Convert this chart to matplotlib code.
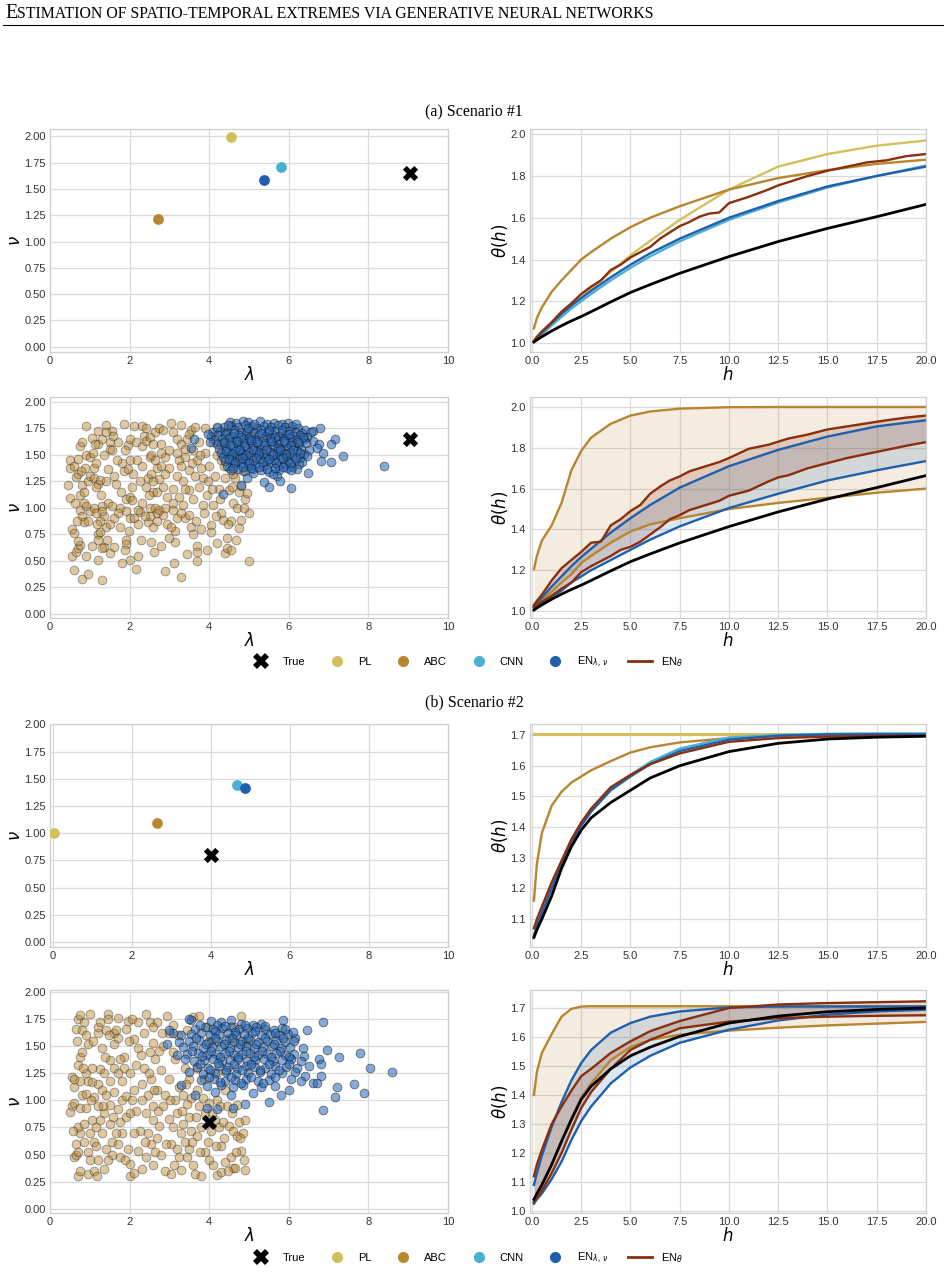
import numpy as np
import matplotlib
matplotlib.use("Agg")
import matplotlib.pyplot as plt
from matplotlib.lines import Line2D

# ---------------- colours ----------------
C_TRUE = "#000000"
C_PL = "#d4bf5f"
C_ABC = "#b8862f"
C_CNN = "#4aafd3"
C_EN = "#1f5fad"
C_ENT = "#8b2e0c"

# ---------------- Scenario (a) point estimates ----------------
A_TRUE = (9.04, 1.65)
A_PL = (4.55, 1.99)
A_ABC = (2.72, 1.21)
A_CNN = (5.80, 1.71)
A_EN = (5.38, 1.585)

# ---------------- Scenario (b) point estimates ----------------
B_TRUE = (4.00, 0.80)
B_PL = (0.02, 1.00)
B_ABC = (2.63, 1.09)
B_CNN = (4.67, 1.445)
B_EN = (4.87, 1.415)

# ---------------- curves: common h grid ----------------
H = [0.1, 0.25, 0.5, 1, 1.5, 2, 2.5, 3, 4, 5, 6, 7.5, 10, 12.5, 15, 17.5, 20]

# Scenario (a) point-estimate curves
A_TRUE_TH = [1.005, 1.015, 1.03, 1.058, 1.083, 1.106, 1.127, 1.15, 1.197, 1.242, 1.28, 1.334, 1.414, 1.486, 1.549, 1.605, 1.664]
A_PL_TH = [1.005, 1.02, 1.04, 1.085, 1.13, 1.175, 1.22, 1.26, 1.34, 1.42, 1.49, 1.59, 1.735, 1.845, 1.905, 1.945, 1.97]
A_ABC_TH = [1.07, 1.12, 1.17, 1.245, 1.30, 1.35, 1.40, 1.435, 1.50, 1.555, 1.60, 1.655, 1.735, 1.79, 1.828, 1.858, 1.878]
A_CNN_TH = [1.008, 1.02, 1.042, 1.085, 1.125, 1.165, 1.20, 1.235, 1.30, 1.36, 1.415, 1.487, 1.59, 1.673, 1.745, 1.80, 1.85]
A_EN_TH = [1.01, 1.025, 1.05, 1.095, 1.14, 1.18, 1.215, 1.25, 1.315, 1.375, 1.43, 1.50, 1.60, 1.68, 1.75, 1.80, 1.845]
H_ENT_A = [0.1, 0.25, 0.5, 1, 1.5, 2, 2.5, 3, 3.5, 4, 4.5, 5, 5.5, 6, 6.5, 7, 7.5, 8, 8.5, 9, 9.5, 10, 11, 12, 12.5, 13, 14, 15, 16, 17, 18, 19, 20]
A_ENT_TH = [1.01, 1.03, 1.055, 1.10, 1.15, 1.19, 1.235, 1.27, 1.30, 1.35, 1.375, 1.41, 1.435, 1.46, 1.50, 1.53, 1.56, 1.58, 1.605, 1.62, 1.625, 1.67, 1.70, 1.735, 1.755, 1.77, 1.80, 1.825, 1.845, 1.865, 1.875, 1.895, 1.905]

# Scenario (a) bands
A_ABC_HI = [1.205, 1.27, 1.345, 1.42, 1.53, 1.69, 1.785, 1.85, 1.918, 1.958, 1.978, 1.992, 1.999, 2.0, 2.0, 2.0, 2.0]
A_ABC_LO = [1.02, 1.03, 1.05, 1.095, 1.14, 1.18, 1.235, 1.27, 1.335, 1.39, 1.425, 1.455, 1.50, 1.53, 1.555, 1.58, 1.60]
A_EN_HI = [1.02, 1.04, 1.065, 1.12, 1.17, 1.22, 1.265, 1.305, 1.385, 1.455, 1.52, 1.605, 1.71, 1.79, 1.855, 1.905, 1.935]
A_EN_LO = [1.015, 1.025, 1.04, 1.07, 1.10, 1.14, 1.17, 1.20, 1.25, 1.30, 1.35, 1.415, 1.505, 1.575, 1.64, 1.69, 1.735]
A_ENT_HI = [1.03, 1.05, 1.08, 1.15, 1.21, 1.25, 1.29, 1.335, 1.34, 1.42, 1.45, 1.49, 1.52, 1.575, 1.61, 1.64, 1.66, 1.685, 1.70, 1.715, 1.73, 1.75, 1.795, 1.815, 1.83, 1.845, 1.865, 1.89, 1.905, 1.92, 1.935, 1.948, 1.958]
A_ENT_LO = [1.02, 1.03, 1.045, 1.075, 1.11, 1.14, 1.19, 1.22, 1.245, 1.27, 1.30, 1.315, 1.34, 1.375, 1.41, 1.45, 1.47, 1.495, 1.51, 1.525, 1.54, 1.565, 1.59, 1.635, 1.655, 1.665, 1.70, 1.725, 1.75, 1.77, 1.79, 1.81, 1.828]

# Scenario (b) point-estimate curves
B_TRUE_TH = [1.04, 1.065, 1.10, 1.175, 1.265, 1.336, 1.39, 1.43, 1.48, 1.52, 1.56, 1.60, 1.646, 1.673, 1.687, 1.693, 1.696]
B_PL_TH = [1.705] * len(H)
B_ABC_TH = [1.16, 1.28, 1.38, 1.47, 1.515, 1.545, 1.565, 1.585, 1.615, 1.643, 1.66, 1.676, 1.69, 1.697, 1.699, 1.70, 1.70]
B_CNN_TH = [1.04, 1.075, 1.118, 1.20, 1.28, 1.35, 1.405, 1.452, 1.525, 1.57, 1.612, 1.656, 1.692, 1.70, 1.704, 1.705, 1.705]
B_EN_TH = [1.045, 1.08, 1.12, 1.20, 1.28, 1.35, 1.405, 1.45, 1.52, 1.565, 1.605, 1.648, 1.685, 1.698, 1.702, 1.703, 1.703]
B_ENT_TH = [1.07, 1.10, 1.14, 1.22, 1.29, 1.36, 1.415, 1.46, 1.53, 1.57, 1.605, 1.64, 1.678, 1.69, 1.695, 1.697, 1.698]

# Scenario (b) bands
B_ABC_HI = [1.40, 1.48, 1.545, 1.61, 1.67, 1.697, 1.705, 1.706, 1.706, 1.706, 1.706, 1.706, 1.706, 1.706, 1.706, 1.706, 1.706]
B_ABC_LO = [1.03, 1.05, 1.085, 1.16, 1.24, 1.32, 1.39, 1.44, 1.52, 1.565, 1.59, 1.608, 1.622, 1.632, 1.64, 1.646, 1.652]
B_EN_HI = [1.09, 1.13, 1.19, 1.29, 1.375, 1.45, 1.51, 1.555, 1.615, 1.648, 1.67, 1.688, 1.702, 1.705, 1.705, 1.705, 1.705]
B_EN_LO = [1.025, 1.04, 1.06, 1.11, 1.17, 1.245, 1.31, 1.36, 1.44, 1.495, 1.535, 1.58, 1.625, 1.657, 1.677, 1.688, 1.694]
B_ENT_HI = [1.12, 1.16, 1.21, 1.30, 1.36, 1.415, 1.465, 1.49, 1.545, 1.585, 1.62, 1.655, 1.70, 1.712, 1.717, 1.72, 1.723]
B_ENT_LO = [1.03, 1.045, 1.07, 1.13, 1.20, 1.28, 1.355, 1.41, 1.49, 1.555, 1.59, 1.63, 1.653, 1.665, 1.67, 1.673, 1.675]
B_TRUE_TH2 = [1.04, 1.06, 1.09, 1.16, 1.24, 1.315, 1.385, 1.43, 1.49, 1.535, 1.565, 1.602, 1.648, 1.672, 1.687, 1.695, 1.70]

# ---------------- ensembles (lambda, nu) ----------------
ABC_A = np.array([
    (0.50, 1.45), (0.50, 1.38), (0.45, 1.22), (0.50, 1.09), (0.55, 0.80), (0.60, 0.76), (0.55, 0.55), (0.60, 0.41),
    (0.65, 0.58), (0.70, 0.62), (0.75, 0.65), (0.60, 1.40), (0.65, 1.29), (0.70, 1.32), (0.70, 1.46), (0.75, 1.58),
    (0.80, 1.62), (0.80, 1.22), (0.75, 1.12), (0.85, 1.05), (0.75, 0.98), (0.80, 0.92), (0.85, 0.87), (0.70, 0.69),
    (0.80, 0.33), (0.95, 0.38), (0.90, 0.55), (0.90, 1.77), (0.90, 1.50), (0.95, 1.25), (0.85, 1.15), (0.90, 1.02),
    (1.00, 0.97), (0.95, 0.88), (1.00, 1.30), (1.00, 1.48),
    (1.05, 1.66), (1.10, 1.38), (1.15, 1.42), (1.10, 1.28), (1.20, 1.23), (1.25, 1.26), (1.10, 1.00), (1.15, 0.95),
    (1.20, 0.75), (1.25, 0.77), (1.20, 0.70), (1.05, 0.64), (1.20, 0.51), (1.30, 0.32), (1.20, 1.60), (1.20, 1.73),
    (1.30, 1.65), (1.35, 1.50), (1.40, 1.78), (1.40, 1.25), (1.30, 1.02), (1.35, 0.92), (1.40, 0.82), (1.35, 0.63),
    (1.30, 0.62), (1.45, 1.37), (1.50, 1.62), (1.50, 1.56), (1.45, 1.05), (1.50, 0.85), (1.50, 0.57), (1.55, 1.73),
    (1.55, 1.55), (1.60, 1.30), (1.55, 1.02), (1.60, 0.63), (1.30, 0.97), (1.25, 0.88), (1.15, 1.20), (1.40, 1.72),
    (1.65, 1.23), (1.70, 1.62), (1.75, 1.00), (1.70, 0.95), (1.75, 0.82), (1.80, 1.42), (1.85, 1.79), (1.80, 0.48),
    (1.85, 1.35), (1.90, 1.08), (1.90, 0.70), (1.90, 0.66), (1.95, 1.59), (1.95, 1.37), (2.00, 1.45), (2.00, 1.65),
    (2.00, 1.10), (2.00, 0.90), (2.00, 0.51), (1.90, 0.97), (2.05, 1.20), (2.10, 1.77), (2.05, 1.07), (2.10, 0.90),
    (2.15, 0.42), (2.20, 0.85), (2.20, 0.55), (2.25, 1.25), (2.30, 1.05), (2.30, 1.77), (2.30, 1.58), (2.25, 0.96),
    (2.15, 1.62), (2.20, 0.98), (2.30, 1.40), (2.35, 1.68),
    (2.40, 1.20), (2.45, 1.28), (2.40, 1.63), (2.50, 1.48), (2.50, 1.00), (2.45, 0.87), (2.50, 0.92), (2.55, 1.50),
    (2.55, 1.32), (2.55, 0.68), (2.60, 1.15), (2.60, 0.82), (2.65, 1.72), (2.65, 1.45), (2.65, 1.00), (2.70, 1.38),
    (2.70, 1.15), (2.70, 0.95), (2.75, 1.75), (2.75, 1.27), (2.80, 1.60), (2.80, 1.40), (2.80, 0.64), (2.85, 1.74),
    (2.85, 1.20), (2.85, 0.93), (2.90, 0.40), (2.90, 1.48), (2.95, 1.10), (2.95, 0.85), (3.00, 1.55), (3.00, 1.38),
    (2.50, 1.67), (2.60, 1.25), (2.75, 0.98), (2.90, 1.00),
    (3.05, 1.80), (3.10, 1.72), (3.10, 1.18), (3.10, 0.98), (3.15, 0.78), (3.15, 0.68), (3.20, 1.65), (3.20, 1.30),
    (3.25, 1.45), (3.25, 1.10), (3.30, 0.35), (3.30, 1.60), (3.35, 1.25), (3.35, 1.03), (3.40, 1.48), (3.40, 0.90),
    (3.45, 0.56), (3.45, 1.65), (3.50, 1.36), (3.50, 1.17), (3.55, 1.74), (3.55, 0.82), (3.60, 1.55), (3.60, 1.08),
    (3.60, 0.75), (3.65, 1.30), (3.70, 0.50), (3.70, 0.64), (3.70, 1.45), (3.70, 0.58), (3.05, 0.82), (3.20, 0.90),
    (3.40, 1.56), (3.50, 0.93), (3.65, 1.76), (3.30, 1.40),
    (3.75, 1.62), (3.75, 1.20), (3.80, 0.80), (3.80, 1.38), (3.85, 1.03), (3.85, 1.28), (3.90, 1.75), (3.90, 1.52),
    (3.95, 1.12), (4.00, 1.40), (4.05, 0.84), (4.05, 0.77), (4.10, 1.62), (4.10, 1.03), (4.15, 1.30), (4.20, 0.67),
    (4.20, 1.50), (4.25, 1.18), (4.30, 0.95), (4.30, 1.45), (4.35, 0.89), (4.40, 0.57), (4.40, 1.28), (4.45, 0.72),
    (4.45, 0.62), (4.50, 1.17), (4.50, 1.38), (4.55, 0.88), (4.55, 0.60), (4.60, 1.05), (4.65, 1.28), (4.70, 1.00),
    (4.75, 0.81), (4.75, 1.15), (4.80, 0.89), (4.80, 1.21), (4.85, 1.35), (4.90, 1.08), (4.95, 1.14), (5.00, 0.95),
    (5.00, 0.50), (4.60, 1.32), (4.20, 1.75), (4.40, 1.70), (4.70, 1.48), (4.30, 1.60),
    (0.62, 1.05), (0.68, 0.88), (0.88, 1.38), (1.08, 1.52), (1.18, 0.85), (1.28, 1.12), (1.42, 0.70), (1.62, 0.90),
    (1.68, 1.45), (1.78, 1.15), (1.88, 1.55), (1.98, 0.78), (2.08, 1.32), (2.18, 1.45), (2.28, 0.70), (2.38, 0.92),
    (2.48, 1.12), (2.58, 1.60), (2.68, 0.88), (2.78, 1.52), (2.88, 1.32), (2.98, 0.72), (3.08, 1.05), (3.18, 1.52),
    (3.28, 0.95), (3.38, 1.18), (3.48, 1.70), (3.58, 1.42), (3.68, 0.88), (3.78, 1.50), (3.88, 0.95), (3.98, 1.25),
    (4.08, 1.18), (4.18, 0.92), (4.28, 1.08), (4.38, 1.40), (4.48, 0.85), (4.58, 1.20), (4.68, 0.70), (4.88, 1.00),
    (0.78, 1.35), (1.12, 1.60), (1.58, 1.68), (2.42, 1.75), (3.28, 1.78), (1.88, 0.60), (2.62, 0.58), (3.12, 0.48),
    (3.95, 0.60),
])

EN_A = np.array([
    (4.52, 1.81), (4.68, 1.80), (4.85, 1.82), (4.97, 1.81), (5.28, 1.82), (5.45, 1.79), (5.62, 1.80), (5.83, 1.79), (5.97, 1.80),
    (4.38, 1.76), (4.55, 1.77), (4.72, 1.76), (4.90, 1.78), (5.08, 1.77), (5.20, 1.75), (5.38, 1.77), (5.55, 1.76),
    (5.74, 1.78), (5.90, 1.76), (6.08, 1.77), (6.22, 1.75), (6.40, 1.74), (6.60, 1.73), (6.78, 1.75),
    (4.10, 1.72), (4.28, 1.73), (4.45, 1.72), (4.62, 1.74), (4.80, 1.72), (4.95, 1.73), (5.12, 1.71), (5.30, 1.74),
    (5.47, 1.72), (5.65, 1.73), (5.82, 1.71), (6.00, 1.73), (6.15, 1.72), (6.32, 1.71), (6.55, 1.72),
    (4.05, 1.68), (4.22, 1.69), (4.40, 1.70), (4.58, 1.68), (4.75, 1.69), (4.92, 1.70), (5.05, 1.68), (5.24, 1.69),
    (5.42, 1.68), (5.58, 1.70), (5.76, 1.68), (5.93, 1.69), (6.10, 1.68), (6.27, 1.69), (6.45, 1.67),
    (4.15, 1.64), (4.32, 1.65), (4.50, 1.66), (4.67, 1.64), (4.84, 1.65), (5.00, 1.66), (5.16, 1.64), (5.35, 1.65),
    (5.52, 1.66), (5.70, 1.64), (5.87, 1.65), (6.04, 1.66), (6.20, 1.64), (6.38, 1.65), (6.62, 1.63), (7.15, 1.65),
    (4.20, 1.60), (4.38, 1.61), (4.55, 1.62), (4.72, 1.60), (4.88, 1.61), (5.05, 1.62), (5.22, 1.60), (5.40, 1.61),
    (5.57, 1.62), (5.74, 1.60), (5.92, 1.61), (6.08, 1.62), (6.25, 1.60), (6.42, 1.61), (6.75, 1.60), (7.05, 1.60),
    (4.25, 1.56), (4.42, 1.57), (4.60, 1.58), (4.77, 1.56), (4.94, 1.57), (5.10, 1.58), (5.28, 1.56), (5.45, 1.57),
    (5.62, 1.58), (5.80, 1.56), (5.97, 1.57), (6.14, 1.58), (6.30, 1.56), (6.50, 1.55), (6.70, 1.57),
    (4.30, 1.52), (4.48, 1.53), (4.65, 1.54), (4.82, 1.52), (5.00, 1.53), (5.17, 1.54), (5.34, 1.52), (5.52, 1.53),
    (5.70, 1.54), (5.87, 1.52), (6.04, 1.53), (6.20, 1.54), (6.38, 1.51), (6.85, 1.52),
    (4.35, 1.48), (4.52, 1.49), (4.70, 1.50), (4.87, 1.48), (5.04, 1.49), (5.22, 1.50), (5.40, 1.48), (5.58, 1.49),
    (5.75, 1.50), (5.92, 1.48), (6.10, 1.49), (6.28, 1.47), (6.45, 1.49), (7.35, 1.49),
    (4.40, 1.44), (4.58, 1.45), (4.75, 1.46), (4.92, 1.44), (5.10, 1.45), (5.28, 1.46), (5.46, 1.44), (5.63, 1.45),
    (5.80, 1.46), (5.98, 1.44), (6.15, 1.45), (6.32, 1.43), (6.80, 1.44), (7.05, 1.43),
    (4.45, 1.40), (4.62, 1.41), (4.80, 1.42), (4.98, 1.40), (5.15, 1.41), (5.35, 1.40), (5.55, 1.42), (5.72, 1.40),
    (5.90, 1.41), (6.08, 1.39), (6.25, 1.41), (8.40, 1.40),
    (4.55, 1.36), (4.72, 1.37), (4.90, 1.35), (5.10, 1.37), (5.30, 1.36), (5.50, 1.34), (5.75, 1.36), (5.95, 1.38),
    (6.20, 1.37), (6.48, 1.33),
    (4.80, 1.22), (5.10, 1.33), (5.38, 1.24), (5.50, 1.20), (5.70, 1.30), (5.78, 1.25), (6.05, 1.19), (4.95, 1.28), (5.60, 1.32),
    (3.55, 1.57), (3.62, 1.65), (3.98, 1.70), (4.02, 1.62), (4.35, 1.13), (4.20, 1.76),
    (4.46, 1.78), (4.63, 1.71), (4.80, 1.67), (4.97, 1.75), (5.13, 1.79), (5.31, 1.71), (5.49, 1.74), (5.66, 1.67),
    (5.84, 1.74), (6.01, 1.70), (6.18, 1.79), (6.35, 1.67),
    (4.36, 1.62), (4.53, 1.59), (4.70, 1.63), (4.87, 1.58), (5.04, 1.64), (5.21, 1.62), (5.38, 1.59), (5.55, 1.63),
    (5.72, 1.57), (5.89, 1.63), (6.06, 1.59), (6.23, 1.62),
    (4.41, 1.54), (4.58, 1.51), (4.75, 1.55), (4.92, 1.50), (5.09, 1.55), (5.26, 1.52), (5.43, 1.55), (5.60, 1.51),
    (5.77, 1.55), (5.94, 1.51), (6.11, 1.55), (6.28, 1.52),
    (4.49, 1.46), (4.66, 1.43), (4.83, 1.47), (5.00, 1.42), (5.17, 1.47), (5.34, 1.43), (5.51, 1.46), (5.68, 1.42),
    (5.85, 1.47), (6.02, 1.42), (6.19, 1.47),
    (4.60, 1.38), (4.85, 1.39), (5.05, 1.38), (5.25, 1.39), (5.45, 1.37), (5.65, 1.38), (5.85, 1.39), (6.05, 1.36),
])

ABC_B = np.array([
    (0.55, 1.22), (0.60, 1.12), (0.55, 0.95), (0.50, 0.89), (0.60, 0.98), (0.65, 0.60), (0.60, 0.48), (0.65, 0.50),
    (0.70, 0.30), (0.75, 0.35), (0.70, 0.52), (0.75, 0.70), (0.70, 0.75), (0.75, 0.93), (0.80, 1.05), (0.75, 1.18),
    (0.70, 1.33), (0.75, 1.40), (0.80, 1.45), (0.65, 1.66), (0.70, 1.75), (0.75, 1.79), (0.85, 1.72), (0.80, 1.65),
    (0.90, 1.60), (0.95, 1.52), (0.95, 1.18), (0.90, 0.93), (0.85, 0.62), (0.95, 0.52), (1.00, 0.45), (0.95, 0.32),
    (0.90, 1.06), (1.00, 1.80), (0.85, 0.78), (1.00, 0.70), (0.60, 1.20), (0.90, 1.25),
    (1.05, 1.30), (1.05, 1.17), (1.10, 1.03), (1.05, 0.82), (1.10, 0.62), (1.15, 0.58), (1.10, 0.35), (1.20, 0.45),
    (1.15, 0.75), (1.20, 0.95), (1.20, 1.15), (1.25, 1.29), (1.20, 1.62), (1.20, 1.68), (1.25, 1.72), (1.30, 1.48),
    (1.35, 1.25), (1.30, 1.10), (1.30, 0.70), (1.35, 0.88), (1.35, 0.37), (1.40, 0.55), (1.40, 1.65), (1.45, 1.80),
    (1.45, 1.75), (1.50, 1.37), (1.50, 1.18), (1.50, 0.96), (1.50, 0.78), (1.55, 0.62), (1.55, 0.50), (1.60, 1.52),
    (1.60, 1.62), (1.60, 1.30), (1.60, 1.08), (1.25, 0.82), (1.45, 0.45), (1.40, 1.05),
    (1.65, 1.65), (1.70, 1.76), (1.70, 1.58), (1.70, 0.92), (1.70, 0.60), (1.75, 0.48), (1.75, 0.80), (1.80, 0.70),
    (1.80, 1.00), (1.80, 1.18), (1.85, 1.30), (1.85, 1.40), (1.90, 1.04), (1.90, 0.85), (1.90, 1.66), (1.95, 1.73),
    (1.95, 0.55), (2.00, 0.30), (2.00, 0.41), (2.00, 1.25), (2.05, 1.00), (2.05, 1.75), (2.10, 1.57), (2.10, 1.10),
    (2.10, 0.33), (2.15, 0.90), (2.20, 1.48), (2.20, 0.53), (2.20, 1.72), (1.75, 1.38), (1.65, 0.70), (2.15, 1.33),
    (2.25, 0.72), (2.30, 1.15), (2.30, 0.37), (2.35, 1.62), (2.35, 1.30), (2.40, 1.80), (2.40, 0.88), (2.40, 0.48),
    (2.45, 1.05), (2.45, 0.70), (2.50, 1.45), (2.50, 1.72), (2.55, 1.20), (2.55, 0.60), (2.60, 0.95), (2.60, 0.82),
    (2.60, 1.53), (2.65, 1.38), (2.65, 0.52), (2.70, 1.72), (2.70, 1.10), (2.70, 0.65), (2.75, 0.76), (2.80, 1.28),
    (2.80, 0.50), (2.85, 1.50), (2.85, 0.95), (2.90, 0.35), (2.90, 1.05), (2.30, 1.00), (2.60, 1.68), (2.75, 1.46),
    (2.95, 1.78), (3.00, 1.62), (3.00, 1.20), (3.00, 0.83), (3.05, 0.60), (3.05, 0.32), (3.10, 1.70), (3.10, 0.75),
    (3.15, 1.00), (3.15, 1.38), (3.20, 0.55), (3.20, 0.88), (3.25, 0.48), (3.30, 0.36), (3.30, 0.70), (3.35, 1.05),
    (3.35, 0.78), (3.40, 0.62), (3.45, 0.97), (3.45, 0.48), (3.50, 0.85), (3.50, 1.20), (3.55, 0.72), (3.55, 1.02),
    (3.60, 1.77), (3.60, 0.40), (3.10, 1.45), (3.40, 1.30), (3.25, 1.12), (3.50, 0.55),
    (3.65, 0.32), (3.70, 0.67), (3.70, 1.10), (3.75, 0.95), (3.75, 1.78), (3.80, 0.30), (3.80, 0.75), (3.85, 1.02),
    (3.90, 0.88), (3.90, 0.52), (3.95, 1.68), (4.00, 0.45), (4.00, 0.98), (4.05, 0.72), (4.10, 0.40), (4.15, 0.82),
    (4.20, 0.31), (4.20, 1.00), (4.25, 0.75), (4.30, 0.58), (4.35, 0.80), (4.40, 0.43), (4.45, 0.95), (4.50, 0.76),
    (4.55, 0.48), (4.60, 0.38), (4.60, 0.72), (4.65, 0.38), (4.70, 0.67), (4.75, 0.80), (4.80, 0.53), (4.85, 0.70),
    (4.90, 0.36), (4.90, 0.82), (4.80, 1.78), (4.50, 1.58), (4.20, 1.25), (3.70, 1.30), (4.05, 1.55), (4.40, 1.10),
    (4.70, 0.96), (4.30, 0.34),
    (0.58, 0.72), (0.82, 1.30), (1.08, 1.55), (1.18, 0.30), (1.32, 0.95), (1.48, 1.60), (1.58, 0.85), (1.72, 1.25),
    (1.88, 0.45), (1.98, 1.55), (2.12, 0.70), (2.28, 1.42), (2.38, 0.62), (2.48, 1.25), (2.58, 0.40), (2.72, 0.90),
    (2.82, 1.62), (2.92, 0.60), (3.02, 1.00), (3.12, 0.40), (3.22, 1.60), (3.32, 0.90), (3.42, 1.15), (3.58, 0.62),
    (3.68, 0.85), (3.78, 0.52), (3.88, 1.20), (3.98, 0.62), (4.08, 0.88), (4.18, 0.58), (4.28, 0.95), (4.38, 0.65),
    (4.48, 0.35), (4.58, 0.88), (4.68, 0.52), (4.78, 0.65), (4.88, 0.45), (0.68, 1.55), (1.02, 1.00), (1.38, 1.40),
    (2.02, 0.88), (2.62, 1.10), (3.45, 1.65), (4.62, 1.68), (4.92, 1.55),
])

EN_B = np.array([
    (3.55, 1.74), (4.05, 1.73), (4.30, 1.72), (4.55, 1.74), (4.80, 1.71), (5.10, 1.70), (5.30, 1.71), (5.85, 1.74), (4.20, 1.70),
    (3.65, 1.66), (3.90, 1.68), (4.10, 1.66), (4.32, 1.67), (4.55, 1.68), (4.75, 1.66), (4.95, 1.67), (5.18, 1.68),
    (5.40, 1.66), (5.62, 1.65), (5.82, 1.67), (6.45, 1.65), (3.10, 1.62),
    (3.30, 1.60), (3.55, 1.61), (3.80, 1.62), (4.02, 1.60), (4.25, 1.61), (4.48, 1.62), (4.68, 1.60), (4.88, 1.61),
    (5.08, 1.62), (5.30, 1.60), (5.52, 1.61), (5.75, 1.60), (5.98, 1.61), (6.15, 1.58),
    (3.25, 1.54), (3.50, 1.55), (3.75, 1.56), (3.98, 1.54), (4.20, 1.55), (4.42, 1.56), (4.62, 1.54), (4.82, 1.55),
    (5.02, 1.56), (5.22, 1.54), (5.45, 1.55), (5.68, 1.56), (5.90, 1.54), (6.12, 1.55),
    (2.95, 1.52), (3.35, 1.49), (3.60, 1.50), (3.85, 1.48), (4.08, 1.49), (4.30, 1.50), (4.52, 1.48), (4.72, 1.49),
    (4.92, 1.50), (5.12, 1.48), (5.35, 1.49), (5.58, 1.50), (5.80, 1.48), (6.02, 1.49), (6.35, 1.48), (6.95, 1.47),
    (3.45, 1.43), (3.72, 1.44), (3.95, 1.42), (4.18, 1.43), (4.40, 1.44), (4.62, 1.42), (4.82, 1.43), (5.02, 1.44),
    (5.22, 1.42), (5.45, 1.43), (5.68, 1.44), (5.90, 1.42), (6.12, 1.43), (6.38, 1.41), (7.80, 1.44),
    (3.40, 1.38), (3.62, 1.36), (3.88, 1.37), (4.10, 1.38), (4.32, 1.36), (4.52, 1.37), (4.72, 1.38), (4.95, 1.36),
    (5.15, 1.37), (5.38, 1.38), (5.60, 1.36), (5.82, 1.37), (6.05, 1.38), (6.30, 1.36), (6.75, 1.38), (6.80, 1.34), (7.25, 1.40),
    (3.70, 1.31), (3.98, 1.30), (4.25, 1.32), (4.48, 1.31), (4.70, 1.30), (4.92, 1.32), (5.15, 1.31), (5.40, 1.30),
    (5.65, 1.32), (5.92, 1.31), (6.20, 1.30), (6.50, 1.32), (8.05, 1.30),
    (3.50, 1.26), (3.85, 1.24), (4.15, 1.25), (4.42, 1.26), (4.68, 1.24), (4.98, 1.25), (5.28, 1.26), (5.55, 1.24),
    (5.82, 1.25), (6.15, 1.26), (6.40, 1.23), (6.80, 1.23), (8.60, 1.26),
    (3.80, 1.19), (4.12, 1.20), (4.40, 1.18), (4.65, 1.19), (4.92, 1.20), (5.22, 1.18), (5.50, 1.19), (6.05, 1.20), (6.30, 1.18),
    (3.30, 1.14), (3.95, 1.13), (4.30, 1.14), (4.60, 1.12), (4.85, 1.14), (5.30, 1.12), (5.65, 1.13), (6.60, 1.16),
    (6.70, 1.16), (7.65, 1.15), (7.20, 1.12),
    (3.65, 1.05), (4.15, 1.08), (4.55, 1.05), (5.10, 1.07), (5.80, 1.05), (6.00, 1.10), (7.90, 1.07), (7.15, 1.03),
    (4.90, 0.97), (5.50, 0.99), (3.95, 0.93), (4.20, 0.92), (4.60, 0.93), (6.85, 0.91),
    (3.00, 1.65), (3.50, 1.75), (6.85, 1.72), (5.90, 1.66), (6.10, 1.63), (3.20, 1.42),
    (3.78, 1.70), (4.15, 1.64), (4.40, 1.69), (4.65, 1.63), (4.90, 1.70), (5.15, 1.64), (5.40, 1.69), (5.65, 1.62),
    (3.68, 1.58), (3.92, 1.52), (4.14, 1.58), (4.36, 1.52), (4.58, 1.58), (4.78, 1.52), (4.98, 1.58), (5.18, 1.52),
    (5.40, 1.58), (5.62, 1.52), (5.85, 1.58),
    (3.58, 1.46), (3.82, 1.41), (4.05, 1.46), (4.28, 1.40), (4.50, 1.46), (4.72, 1.40), (4.92, 1.46), (5.12, 1.40),
    (5.32, 1.46), (5.55, 1.40), (5.78, 1.46), (6.00, 1.40),
    (3.78, 1.34), (4.02, 1.28), (4.22, 1.35), (4.42, 1.28), (4.62, 1.34), (4.82, 1.28), (5.05, 1.34), (5.28, 1.28),
    (5.50, 1.34), (5.75, 1.28), (6.00, 1.34),
    (4.00, 1.22), (4.28, 1.17), (4.55, 1.22), (4.80, 1.16), (5.05, 1.22), (5.35, 1.16), (5.65, 1.22),
])

LEGEND_LABELS = ["True", "PL", "ABC", "CNN", r"EN$_{\lambda,\,\nu}$", r"EN$_{\theta}$"]

# ---------------- figure ----------------
W, HH = 948, 1273
fig = plt.figure(figsize=(W / 100, HH / 100), dpi=100)
fig.patch.set_facecolor("white")

TICKFONT = "Liberation Sans"


def px_axes(x0, y0, x1, y1):
    return fig.add_axes([x0 / W, 1 - y1 / HH, (x1 - x0) / W, (y1 - y0) / HH])


def style(ax):
    ax.set_facecolor("white")
    ax.grid(True, color="#dadada", lw=0.9)
    ax.set_axisbelow(True)
    for sp in ax.spines.values():
        sp.set_color("#cfcfcf")
        sp.set_linewidth(0.9)
    ax.tick_params(length=0, labelsize=8, labelcolor="#333333", pad=3)
    for lab in ax.get_xticklabels() + ax.get_yticklabels():
        lab.set_fontfamily(TICKFONT)


def scatter_panel(ax, ylim, xlim=(0, 10)):
    ax.set_xlim(*xlim)
    ax.set_ylim(*ylim)
    ax.set_xticks([0, 2, 4, 6, 8, 10])
    ax.set_yticks([0, 0.25, 0.5, 0.75, 1.0, 1.25, 1.5, 1.75, 2.0])
    ax.set_yticklabels([f"{v:.2f}" for v in ax.get_yticks()])
    ax.set_xlabel(r"$\lambda$", fontsize=12, labelpad=0)
    ax.set_ylabel(r"$\nu$", fontsize=12, labelpad=0)
    style(ax)


def theta_panel(ax, yticks, fmt="{:.1f}"):
    ax.set_xlim(-0.1, 20)
    ax.set_xticks([0, 2.5, 5, 7.5, 10, 12.5, 15, 17.5, 20])
    ax.set_xticklabels([f"{v:.1f}" for v in [0, 2.5, 5, 7.5, 10, 12.5, 15, 17.5, 20]])
    ax.set_yticks(yticks)
    ax.set_yticklabels([fmt.format(v) for v in yticks])
    ax.set_xlabel(r"$h$", fontsize=12, labelpad=0)
    ax.set_ylabel(r"$\theta(h)$", fontsize=12, labelpad=0)
    style(ax)


def points(ax, pts):
    true, pl, abc, cnn, en = pts
    for (x, y), c in zip([pl, abc, cnn, en], [C_PL, C_ABC, C_CNN, C_EN]):
        ax.scatter([x], [y], s=60, color=c, zorder=3, linewidths=0)
    ax.scatter([true[0]], [true[1]], s=120, marker="X", color="k", zorder=4, linewidths=0)


def clouds(ax, abc, en, true):
    ax.scatter(abc[:, 0], abc[:, 1], s=40, color=C_ABC, alpha=0.45,
               edgecolors="#222222", linewidths=0.6, zorder=2)
    ax.scatter(en[:, 0], en[:, 1], s=40, color="#2566b8", alpha=0.55,
               edgecolors="#111111", linewidths=0.6, zorder=3)
    ax.scatter([true[0]], [true[1]], s=120, marker="X", color="k", zorder=4, linewidths=0)


LW = 1.7

# ---- header ----
t1 = fig.text(5 / W, 1 - 18 / HH, "E", fontsize=14.5, family="Liberation Serif", va="baseline")
fig.canvas.draw()
bb = t1.get_window_extent()
fig.text(bb.x1 / W, 1 - 18 / HH, "STIMATION OF SPATIO-TEMPORAL EXTREMES VIA GENERATIVE NEURAL NETWORKS",
         fontsize=11.4, family="Liberation Serif", va="baseline")
fig.add_artist(Line2D([3 / W, 943 / W], [1 - 25 / HH] * 2, color="k", lw=0.8))

fig.text(474 / W, 1 - 112 / HH, "(a) Scenario #1", fontsize=11.5, family="Liberation Serif",
         ha="center", va="center")
fig.text(474 / W, 1 - 702 / HH, "(b) Scenario #2", fontsize=11.5, family="Liberation Serif",
         ha="center", va="center")

# ---- Scenario (a) ----
ax = px_axes(50, 129, 448, 352)
points(ax, [A_TRUE, A_PL, A_ABC, A_CNN, A_EN])
scatter_panel(ax, (-0.05, 2.07))

ax = px_axes(530, 129, 926, 352)
ax.plot(H, A_PL_TH, color=C_PL, lw=LW)
ax.plot(H, A_ABC_TH, color=C_ABC, lw=LW)
ax.plot(H, A_CNN_TH, color=C_CNN, lw=LW)
ax.plot(H, A_EN_TH, color=C_EN, lw=LW)
ax.plot(H_ENT_A, A_ENT_TH, color=C_ENT, lw=LW)
ax.plot(H, A_TRUE_TH, color="k", lw=2.0)
ax.set_ylim(0.957, 2.025)
theta_panel(ax, [1.0, 1.2, 1.4, 1.6, 1.8, 2.0])

ax = px_axes(50, 397, 448, 618)
clouds(ax, ABC_A, EN_A, A_TRUE)
scatter_panel(ax, (-0.04, 2.047))

ax = px_axes(530, 397, 926, 618)
ax.fill_between(H, A_ABC_LO, A_ABC_HI, color=C_ABC, alpha=0.15, lw=0)
ax.fill_between(H_ENT_A, A_ENT_LO, A_ENT_HI, color=C_ENT, alpha=0.18, lw=0)
ax.fill_between(H, A_EN_LO, A_EN_HI, color=C_EN, alpha=0.15, lw=0)
ax.plot(H, A_ABC_HI, color=C_ABC, lw=LW)
ax.plot(H, A_ABC_LO, color=C_ABC, lw=LW)
ax.plot(H, A_EN_HI, color=C_EN, lw=LW)
ax.plot(H, A_EN_LO, color=C_EN, lw=LW)
ax.plot(H_ENT_A, A_ENT_HI, color=C_ENT, lw=LW)
ax.plot(H_ENT_A, A_ENT_LO, color=C_ENT, lw=LW)
ax.plot(H, A_TRUE_TH, color="k", lw=2.0)
ax.set_ylim(0.966, 2.049)
theta_panel(ax, [1.0, 1.2, 1.4, 1.6, 1.8, 2.0])

# ---- Scenario (b) ----
ax = px_axes(50, 724, 448, 947)
points(ax, [B_TRUE, B_PL, B_ABC, B_CNN, B_EN])
scatter_panel(ax, (-0.046, 2.003), xlim=(-0.07, 10))

ax = px_axes(530, 724, 926, 947)
ax.plot(H, B_PL_TH, color=C_PL, lw=2.2)
ax.plot(H, B_ABC_TH, color=C_ABC, lw=LW)
ax.plot(H, B_CNN_TH, color=C_CNN, lw=LW)
ax.plot(H, B_EN_TH, color=C_EN, lw=LW)
ax.plot(H, B_ENT_TH, color=C_ENT, lw=LW)
ax.plot(H, B_TRUE_TH, color="k", lw=2.0)
ax.set_ylim(1.009, 1.736)
theta_panel(ax, [1.1, 1.2, 1.3, 1.4, 1.5, 1.6, 1.7])

ax = px_axes(50, 990, 448, 1213)
clouds(ax, ABC_B, EN_B, B_TRUE)
scatter_panel(ax, (-0.04, 2.02))

ax = px_axes(530, 990, 926, 1213)
ax.fill_between(H, B_ABC_LO, B_ABC_HI, color=C_ABC, alpha=0.15, lw=0)
ax.fill_between(H, B_ENT_LO, B_ENT_HI, color=C_ENT, alpha=0.18, lw=0)
ax.fill_between(H, B_EN_LO, B_EN_HI, color=C_EN, alpha=0.15, lw=0)
ax.plot(H, B_ABC_HI, color=C_ABC, lw=LW)
ax.plot(H, B_ABC_LO, color=C_ABC, lw=LW)
ax.plot(H, B_EN_HI, color=C_EN, lw=LW)
ax.plot(H, B_EN_LO, color=C_EN, lw=LW)
ax.plot(H, B_ENT_HI, color=C_ENT, lw=LW)
ax.plot(H, B_ENT_LO, color=C_ENT, lw=LW)
ax.plot(H, B_TRUE_TH2, color="k", lw=2.0)
ax.set_ylim(0.993, 1.762)
theta_panel(ax, [1.0, 1.1, 1.2, 1.3, 1.4, 1.5, 1.6, 1.7])

# ---- legends ----
def handles():
    return [
        Line2D([], [], ls="none", marker="X", markersize=11, color="k", markeredgewidth=0),
        Line2D([], [], ls="none", marker="o", markersize=8, color=C_PL, markeredgewidth=0),
        Line2D([], [], ls="none", marker="o", markersize=8, color=C_ABC, markeredgewidth=0),
        Line2D([], [], ls="none", marker="o", markersize=8, color=C_CNN, markeredgewidth=0),
        Line2D([], [], ls="none", marker="o", markersize=8, color=C_EN, markeredgewidth=0),
        Line2D([], [], color=C_ENT, lw=2),
    ]


for ycen in (662, 1258):
    fig.legend(handles(), LEGEND_LABELS, loc="center", bbox_to_anchor=(466 / W, 1 - ycen / HH),
               ncol=6, frameon=False, columnspacing=1.75, handlelength=2.2,
               handletextpad=0.8, prop={"family": TICKFONT, "size": 8})

fig.savefig("out.png", dpi=100, facecolor="white")
